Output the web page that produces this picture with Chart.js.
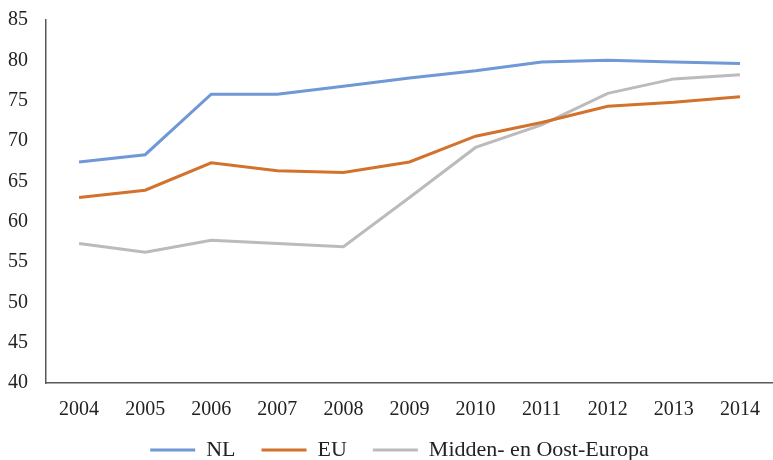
<!DOCTYPE html>
<html>
<head>
<meta charset="utf-8">
<script src="https://cdn.jsdelivr.net/npm/chart.js@4/dist/chart.umd.min.js"></script>
<style>
  body { margin: 0; background: #fff; }
  #chart { display: block; }
</style>
</head>
<body>
<canvas id="chart" width="773" height="460"></canvas>
<script>
// Data
const years = ['2004', '2005', '2006', '2007', '2008', '2009', '2010', '2011', '2012', '2013', '2014'];
const nlValues = [67.4, 68.3, 75.8, 75.8, 76.8, 77.8, 78.7, 79.8, 80.0, 79.8, 79.6];
const euValues = [63.0, 63.9, 67.3, 66.3, 66.1, 67.4, 70.6, 72.3, 74.3, 74.8, 75.5];
const moeValues = [57.3, 56.2, 57.7, 57.3, 56.9, 63.0, 69.2, 72.0, 75.9, 77.7, 78.2];
const yTicks = [40, 45, 50, 55, 60, 65, 70, 75, 80, 85];

const serif = "'Liberation Serif', 'DejaVu Serif', serif";
const axisColor = '#595959';

// Nudge the legend a bit right and up, like in the original
const legendNudge = {
    id: 'legendNudge',
    afterLayout(chart) {
        const lg = chart.legend;
        lg.left += 20;
        lg.top -= 7;
        lg.bottom = chart.height;
    }
};

const ctx = document.getElementById('chart');
new Chart(ctx, {
    type: 'line',
    data: {
        labels: years,
        datasets: [
            { label: 'NL', data: nlValues, borderColor: '#6F98D6', backgroundColor: '#6F98D6' },
            { label: 'EU', data: euValues, borderColor: '#D2722C', backgroundColor: '#D2722C' },
            { label: 'Midden- en Oost-Europa', data: moeValues, borderColor: '#BBBBBB', backgroundColor: '#BBBBBB' }
        ]
    },
    plugins: [legendNudge],
    options: {
        responsive: false,
        animation: false,
        layout: { padding: { top: 0, left: 0, bottom: 0, right: -6 } },
        elements: {
            line: { borderWidth: 3, tension: 0 },
            point: { radius: 0 }
        },
        plugins: {
            legend: {
                position: 'bottom',
                maxHeight: 40,
                labels: {
                    boxWidth: 45,
                    boxHeight: 0,
                    padding: 26,
                    color: '#222',
                    font: { family: serif, size: 22 }
                }
            },
            tooltip: { enabled: false }
        },
        scales: {
            x: {
                offset: true,
                grid: { display: false, drawTicks: false },
                border: { display: true, color: axisColor, width: 1.5 },
                afterFit: scale => {
                    scale.height = 37;
                    scale.paddingLeft = 0;
                    scale.paddingRight = 0;
                },
                ticks: {
                    color: '#222',
                    padding: 15,
                    maxRotation: 0,
                    font: { family: serif, size: 20 }
                }
            },
            y: {
                min: yTicks[0],
                max: yTicks[yTicks.length - 1],
                afterBuildTicks: scale => {
                    scale.ticks = yTicks.map(v => ({ value: v }));
                },
                afterFit: scale => {
                    scale.width = 46;
                    scale.paddingTop = 20;
                    scale.paddingBottom = 0;
                },
                grid: { display: false, drawTicks: false },
                border: { display: true, color: axisColor, width: 1.5 },
                ticks: {
                    color: '#222',
                    padding: 18,
                    font: { family: serif, size: 20 }
                }
            }
        }
    }
});
</script>
</body>
</html>
